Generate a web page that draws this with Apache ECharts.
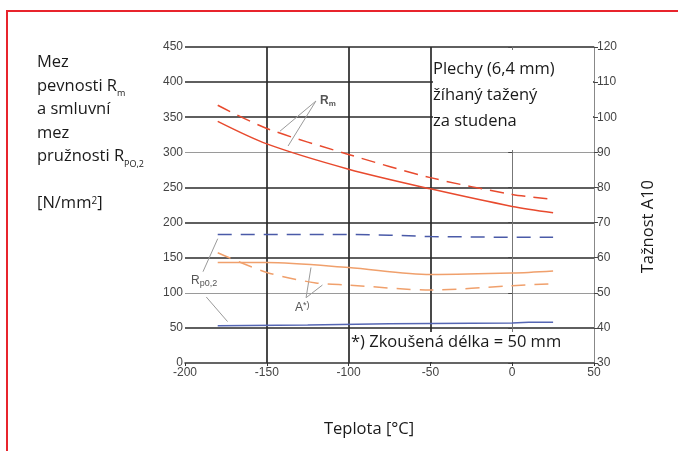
<!DOCTYPE html>
<html>
<head>
<meta charset="utf-8">
<script src="https://cdn.jsdelivr.net/npm/echarts@6/dist/echarts.min.js"></script>
<style>
  html, body { margin: 0; padding: 0; background: #fff; }
  #chart { width: 678px; height: 451px; }
</style>
</head>
<body>
<div id="chart"></div>
<script>
// osy
var xTicks = [-200, -150, -100, -50, 0, 50];
var leftTicks = [0, 50, 100, 150, 200, 250, 300, 350, 400, 450];
var rightTicks = [30, 40, 50, 60, 70, 80, 90, 100, 110, 120];

// mez pevnosti Rm [N/mm2]
var tempRm = [-180, -150, -100, -50, 0, 25];
var rmSolid = [344, 312, 276, 248, 223, 214];
var rmDashed = [367, 334, 297, 264, 240, 233];

// mez pruznosti Rp0,2 [N/mm2]
var tempRpDashed = [-180, -100, -75, -50, 0, 25];
var rpDashed = [183, 183, 182, 180, 179, 179];
var tempRpSolid = [-180, -125, -75, 0, 10, 25];
var rpSolid = [53, 54, 56, 57, 58, 58];

// taznost A [%]
var tempASolid = [-180, -150, -100, -50, 0, 25];
var aSolid = [58.6, 58.6, 57.2, 55.2, 55.6, 56.2];
var tempADashed = [-180, -150, -120, -100, -50, 0, 25];
var aDashed = [61.4, 55.8, 52.8, 52.2, 50.8, 52, 52.6];

function pairs(xs, ys) {
    var d = [];
    for (var i = 0; i < xs.length; i++) {
        d.push([xs[i], ys[i]]);
    }
    return d;
}

var chart = echarts.init(document.getElementById('chart'));

var txtFont = "'Open Sans', 'Noto Sans', sans-serif";
var tickFont = "'Liberation Sans Narrow', 'Liberation Sans', Arial, sans-serif";

// tenke sede cary mrizky, ostatni tmave
var thinY = [100, 300];
var thinX = [0];

var gridLines = [];
leftTicks.slice(1).forEach(function (v) {
    var thin = thinY.indexOf(v) >= 0;
    gridLines.push({yAxis: v, lineStyle: {color: thin ? '#9a9a9a' : '#2a2a2a', width: thin ? 1 : 1.7, type: 'solid'}});
});
xTicks.slice(1, -1).forEach(function (v) {
    var thin = thinX.indexOf(v) >= 0;
    gridLines.push({xAxis: v, lineStyle: {color: thin ? '#9a9a9a' : '#2a2a2a', width: thin ? 1 : 1.7, type: 'solid'}});
});

var leaderStyle = {color: '#9a9a9a', width: 1, type: 'solid'};
var leaders = [
    [{coord: [-120, 373]}, {coord: [-142, 330]}],
    [{coord: [-120, 373]}, {coord: [-137, 309]}],
    [{coord: [-180, 177]}, {coord: [-189, 130]}],
    [{coord: [-187, 94]}, {coord: [-174, 59]}],
    [{coord: [-126, 93]}, {coord: [-123, 136]}],
    [{coord: [-126, 93]}, {coord: [-116, 111]}]
];

var option = {
    backgroundColor: '#fff',
    animation: false,
    grid: {left: 185, right: 84, top: 47, bottom: 88},
    xAxis: {
        type: 'value', min: -200, max: 50, interval: 50,
        axisLine: {show: true, onZero: false, lineStyle: {color: '#333', width: 1.5}},
        axisTick: {show: true, length: 3, lineStyle: {color: '#333'}},
        axisLabel: {color: '#444', fontFamily: tickFont, fontSize: 12, margin: 4},
        splitLine: {show: false}
    },
    yAxis: [{
        type: 'value', min: 0, max: 450, interval: 50,
        axisLine: {show: true, lineStyle: {color: '#777', width: 1}},
        axisTick: {show: true, length: 4, lineStyle: {color: '#444'}},
        axisLabel: {color: '#444', fontFamily: tickFont, fontSize: 12, margin: 2},
        splitLine: {show: false}
    }, {
        type: 'value', min: 30, max: 120, interval: 10, position: 'right',
        axisLine: {show: true, lineStyle: {color: '#888', width: 1}},
        axisTick: {show: true, inside: false, length: 4, lineStyle: {color: '#444'}},
        axisLabel: {color: '#444', fontFamily: tickFont, fontSize: 12, margin: 3},
        splitLine: {show: false}
    }],
    graphic: [
        // cerveny ramecek
        {type: 'rect', z: 100, shape: {x: 7, y: 11, width: 700, height: 500},
         style: {fill: 'none', stroke: '#e8242c', lineWidth: 2}},
        // bile pozadi popisku v grafu
        {type: 'rect', z: 1, shape: {x: 433, y: 50, width: 160, height: 100}, style: {fill: '#fff'}},
        {type: 'rect', z: 1, shape: {x: 351, y: 332, width: 242, height: 30}, style: {fill: '#fff'}},
        {type: 'text', z: 10, left: 433, top: 56, style: {text: 'Plechy (6,4 mm)\nžíhaný tažený\nza studena',
            font: '16.5px ' + txtFont, fill: '#1a1a1a', lineHeight: 26}},
        {type: 'text', z: 10, left: 351, top: 334, style: {text: '*) Zkoušená délka = 50 mm',
            font: '16.5px ' + txtFont, fill: '#1a1a1a'}},
        {type: 'text', z: 10, left: 37, top: 51, style: {
            text: 'Mez\npevnosti R{s|m}\na smluvní\nmez\npružnosti R{s|PO,2}\n\n[N/mm{p|2}]',
            font: '16.5px ' + txtFont, fill: '#1a1a1a', lineHeight: 23.5,
            rich: {s: {fontSize: 9, fontFamily: txtFont, verticalAlign: 'bottom', padding: [8, 0, 0, 0], lineHeight: 23.5},
                   p: {fontSize: 10, fontFamily: txtFont, padding: [0, 0, 6, 0], lineHeight: 23.5}}
        }},
        {type: 'text', z: 10, left: 324, top: 421, style: {text: 'Teplota [°C]',
            font: '16.5px ' + txtFont, fill: '#1a1a1a'}},
        {type: 'text', z: 10, left: 640, top: 180, rotation: Math.PI / 2, style: {text: 'Tažnost A10',
            font: '16.5px ' + txtFont, fill: '#1a1a1a'}},
        {type: 'text', z: 10, left: 320, top: 95, style: {text: 'R{s|m}', font: 'bold 12px ' + tickFont, fill: '#555',
            rich: {s: {fontSize: 8, fontWeight: 'bold', padding: [5, 0, 0, 0]}}}},
        {type: 'text', z: 10, left: 191, top: 275, style: {text: 'R{s|p0,2}', font: '12px ' + tickFont, fill: '#555',
            rich: {s: {fontSize: 9, padding: [5, 0, 0, 0]}}}},
        {type: 'text', z: 10, left: 295, top: 301, style: {text: 'A{s|*)}', font: '12px ' + tickFont, fill: '#555',
            rich: {s: {fontSize: 9, padding: [0, 0, 5, 0]}}}}
    ],
    series: [{
        name: 'mrizka', type: 'line', z: 0, data: [], silent: true,
        markLine: {z: 0, silent: true, symbol: 'none', label: {show: false}, animation: false, data: gridLines}
    }, {
        name: 'odkazy', type: 'line', z: 3, data: [], silent: true,
        markLine: {silent: true, symbol: 'none', label: {show: false}, animation: false, lineStyle: leaderStyle, data: leaders}
    }, {
        name: 'Rm', type: 'line', z: 5, showSymbol: false, smooth: 0.3,
        lineStyle: {color: '#e84a2e', width: 1.5},
        data: pairs(tempRm, rmSolid)
    }, {
        name: 'Rm2', type: 'line', z: 5, showSymbol: false, smooth: 0.3,
        lineStyle: {color: '#e84a2e', width: 1.5, type: [14, 8]},
        data: pairs(tempRm, rmDashed)
    }, {
        name: 'Rp', type: 'line', z: 5, showSymbol: false,
        lineStyle: {color: '#4a5aa8', width: 1.5, type: [14, 9]},
        data: pairs(tempRpDashed, rpDashed)
    }, {
        name: 'Rp2', type: 'line', z: 5, showSymbol: false,
        lineStyle: {color: '#5566b4', width: 1.5},
        data: pairs(tempRpSolid, rpSolid)
    }, {
        name: 'A', type: 'line', z: 5, yAxisIndex: 1, showSymbol: false, smooth: 0.3,
        lineStyle: {color: '#f0a06c', width: 1.5},
        data: pairs(tempASolid, aSolid)
    }, {
        name: 'A2', type: 'line', z: 5, yAxisIndex: 1, showSymbol: false, smooth: 0.3,
        lineStyle: {color: '#f0a06c', width: 1.5, type: [14, 9]},
        data: pairs(tempADashed, aDashed)
    }]
};

chart.setOption(option);
window.addEventListener("resize", function () {
    chart.resize();
});
</script>
</body>
</html>
